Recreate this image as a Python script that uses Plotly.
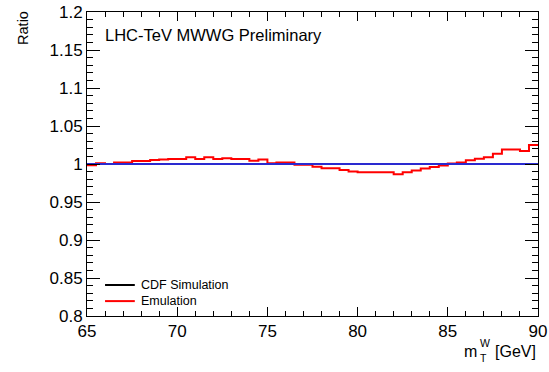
import plotly.graph_objects as go

# bin lower edges (GeV), 0.5 GeV bins from 65 to 90
bin_low = [65.0 + 0.5 * i for i in range(50)]
bin_high_end = 90.0

emulation_ratio = [
    0.9985, 1.001, 1.000, 1.002, 1.002, 1.004, 1.004, 1.0053, 1.006, 1.0066,
    1.0066, 1.0088, 1.0066, 1.0088, 1.0066, 1.0075, 1.0066, 1.0066, 1.0044, 1.006,
    1.001, 1.002, 1.002, 0.999, 0.999, 0.9965, 0.9943, 0.9943, 0.992, 0.990,
    0.989, 0.989, 0.989, 0.989, 0.9864, 0.989, 0.9915, 0.994, 0.996, 0.998,
    1.0005, 1.002, 1.005, 1.007, 1.009, 1.0135, 1.019, 1.019, 1.017, 1.025,
]
cdf_ratio = [1.0] * 50

y_tickvals = [0.8, 0.85, 0.9, 0.95, 1.0, 1.05, 1.1, 1.15, 1.2]
y_ticktext = ["0.8", "0.85", "0.9", "0.95", "1", "1.05", "1.1", "1.15", "1.2"]
x_tickvals = [65, 70, 75, 80, 85, 90]
x_ticktext = ["65", "70", "75", "80", "85", "90"]

legend_labels = ["CDF Simulation", "Emulation"]
legend_colors = ["black", "#ff0000"]

xs = bin_low + [bin_high_end]
FONT = "Liberation Sans, Arial, sans-serif"

fig = go.Figure()
fig.add_trace(go.Scatter(
    x=xs, y=emulation_ratio + [emulation_ratio[-1]], mode="lines",
    line=dict(color="#ff0000", width=2, shape="hv"), name="Emulation", showlegend=False))
fig.add_trace(go.Scatter(
    x=xs, y=cdf_ratio + [cdf_ratio[-1]], mode="lines",
    line=dict(color="#2a2ad0", width=2, shape="hv"), name="CDF Simulation", showlegend=False))

annotations = [
    dict(text="LHC-TeV MWWG Preliminary", x=0.035, y=0.962, xref="paper", yref="paper",
         xanchor="left", yanchor="top", showarrow=False, font=dict(size=16.5, family=FONT)),
    dict(text="Ratio", x=-0.142, y=1.01, xref="paper", yref="paper", textangle=-90,
         xanchor="center", yanchor="top", showarrow=False, font=dict(size=14.5, family=FONT)),
    # x-axis title: m with stacked super/subscript, then [GeV]
    dict(text="[GeV]", x=1.0, y=-0.118, xref="paper", yref="paper",
         xanchor="right", yanchor="middle", showarrow=False, font=dict(size=16, family=FONT)),
    dict(text="m", x=0.869, y=-0.118, xref="paper", yref="paper",
         xanchor="right", yanchor="middle", showarrow=False, font=dict(size=16, family=FONT)),
    dict(text="W", x=0.867, y=-0.089, xref="paper", yref="paper",
         xanchor="left", yanchor="middle", showarrow=False, font=dict(size=10.5, family=FONT)),
    dict(text="T", x=0.867, y=-0.137, xref="paper", yref="paper",
         xanchor="left", yanchor="middle", showarrow=False, font=dict(size=10.5, family=FONT)),
]
shapes = []
legend_y = [0.102, 0.049]
for lab, col, ly in zip(legend_labels, legend_colors, legend_y):
    shapes.append(dict(type="line", xref="paper", yref="paper", x0=0.040, x1=0.106,
                       y0=ly, y1=ly, line=dict(color=col, width=2)))
    annotations.append(dict(text=lab, x=0.116, y=ly, xref="paper", yref="paper",
                            xanchor="left", yanchor="middle", showarrow=False,
                            font=dict(size=12.5, family=FONT)))

fig.update_layout(
    width=549, height=372,
    margin=dict(l=87, r=11, t=12, b=56, autoexpand=False),
    paper_bgcolor="white", plot_bgcolor="white",
    font=dict(family=FONT, color="black"),
    showlegend=False,
    annotations=annotations,
    shapes=shapes,
)
fig.update_xaxes(
    range=[65, 90], showgrid=False, zeroline=False, automargin=False,
    showline=True, linecolor="black", linewidth=1, mirror="allticks",
    ticks="inside", ticklen=9, tickcolor="black", ticklabelstandoff=0,
    tickvals=x_tickvals, ticktext=x_ticktext, tickfont=dict(size=17, family=FONT),
    minor=dict(dtick=1, ticks="inside", ticklen=5, tickcolor="black", showgrid=False),
)
fig.update_yaxes(
    range=[0.8, 1.2], showgrid=False, zeroline=False, automargin=False,
    showline=True, linecolor="black", linewidth=1, mirror="allticks",
    ticks="inside", ticklen=13, tickcolor="black",
    tickvals=y_tickvals, ticktext=y_ticktext, tickfont=dict(size=17, family=FONT),
    minor=dict(tickvals=[0.8 + 0.01 * i for i in range(41)], ticks="inside", ticklen=6,
               tickcolor="black", showgrid=False),
)

fig.write_html("out.html")
